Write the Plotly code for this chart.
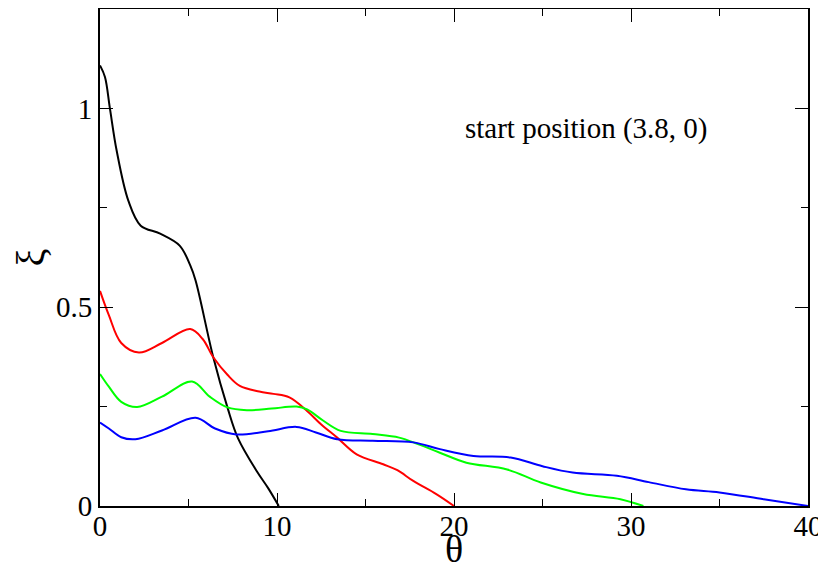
import plotly.graph_objects as go

# curves (theta, xi)
black_x = [0, 0.28, 0.56, 0.94, 1.6, 2.3, 3.4, 4.5, 5.1, 5.4, 6.4, 7.2, 7.8, 8.85, 9.5, 10.1]
black_y = [1.108, 1.079, 1.0, 0.894, 0.768, 0.705, 0.685, 0.655, 0.605, 0.567, 0.374, 0.248, 0.17, 0.088, 0.045, 0]

red_x = [0, 0.5, 1.2, 2.2, 3.5, 5.1, 5.8, 6.4, 7.2, 7.9, 9.0, 9.8, 10.7, 11.7, 12.5, 13.4, 14.5, 16, 16.8, 17.7, 19, 20]
red_y = [0.541, 0.48, 0.41, 0.386, 0.41, 0.445, 0.42, 0.374, 0.33, 0.302, 0.288, 0.282, 0.273, 0.239, 0.205, 0.172, 0.13, 0.105, 0.09, 0.063, 0.03, 0]

green_x = [0, 0.5, 1.2, 2.1, 3.5, 5.2, 6.2, 7.2, 8.3, 9.7, 11.1, 11.7, 12.6, 13.6, 15.4, 16.9, 18, 19.2, 20.7, 23, 24.9, 27.3, 29.4, 30.7]
green_y = [0.332, 0.3, 0.262, 0.249, 0.275, 0.313, 0.275, 0.248, 0.241, 0.245, 0.25, 0.243, 0.215, 0.189, 0.181, 0.172, 0.155, 0.134, 0.109, 0.092, 0.059, 0.03, 0.017, 0]

blue_x = [0, 0.5, 1.2, 2.0, 3.5, 5.4, 6.5, 7.7, 9.5, 11.1, 12.2, 13.4, 15.4, 17.7, 19.2, 21.1, 23.2, 25, 26.7, 29.2, 31, 33.1, 35, 37.5, 40]
blue_y = [0.21, 0.195, 0.173, 0.168, 0.19, 0.222, 0.195, 0.18, 0.188, 0.199, 0.185, 0.168, 0.164, 0.16, 0.143, 0.126, 0.122, 0.1, 0.084, 0.076, 0.06, 0.042, 0.034, 0.017, 0]

series = [
    (black_x, black_y, 'black'),
    (red_x, red_y, '#ff0000'),
    (green_x, green_y, '#00ff00'),
    (blue_x, blue_y, '#0000ff'),
]

serif = 'Liberation Serif'

fig = go.Figure()
for xs, ys, c in series:
    fig.add_trace(go.Scatter(x=xs, y=ys, mode='lines',
                             line=dict(color=c, width=2, shape='spline', smoothing=1.0),
                             showlegend=False))

axis_style = dict(
    showgrid=False, zeroline=False, automargin=False,
    showline=True, linecolor='black', linewidth=2, mirror='ticks',
    ticks='inside', ticklen=13, tickwidth=1, tickcolor='black',
    tickfont=dict(family=serif, size=29, color='black'),
)

fig.update_xaxes(range=[0, 40], dtick=10, ticklabelposition='outside', ticklabelstandoff=-7,
                 minor=dict(dtick=5, ticks='inside', ticklen=7, tickcolor='black'),
                 title=dict(text='θ', font=dict(family=serif, size=38, color='black'), standoff=8),
                 **axis_style)
fig.update_yaxes(range=[0, 1.25], dtick=0.5,
                 minor=dict(dtick=0.25, ticks='inside', ticklen=7, tickcolor='black'),
                 title=dict(text='ξ', font=dict(family=serif, size=40, color='black'), standoff=10),
                 **axis_style)

fig.add_annotation(x=0.513, y=0.76, xref='paper', yref='paper', xanchor='left', yanchor='middle',
                   text='start position (3.8, 0)', showarrow=False,
                   font=dict(family=serif, size=29, color='black'))

# page body adds 8px margin, so the figure is 8px smaller
fig.update_layout(
    width=818, height=562, autosize=False,
    margin=dict(l=92, r=18, t=1, b=64),
    plot_bgcolor='white', paper_bgcolor='white',
)

fig.write_html("out.html")
